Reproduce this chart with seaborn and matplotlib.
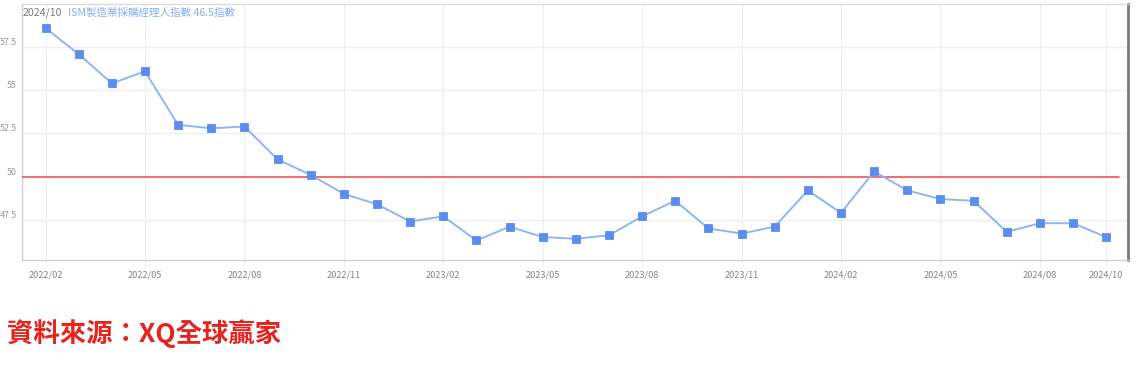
import numpy as np
import pandas as pd
import matplotlib
matplotlib.use("Agg")
import matplotlib.pyplot as plt
import seaborn as sns

# ---- data ----
months = ["2022/02", "2022/03", "2022/04", "2022/05", "2022/06", "2022/07",
          "2022/08", "2022/09", "2022/10", "2022/11", "2022/12", "2023/01",
          "2023/02", "2023/03", "2023/04", "2023/05", "2023/06", "2023/07",
          "2023/08", "2023/09", "2023/10", "2023/11", "2023/12", "2024/01",
          "2024/02", "2024/03", "2024/04", "2024/05", "2024/06", "2024/07",
          "2024/08", "2024/09", "2024/10"]
pmi = [58.6, 57.1, 55.4, 56.1, 53.0, 52.8,
       52.9, 51.0, 50.1, 49.0, 48.4, 47.4,
       47.7, 46.3, 47.1, 46.5, 46.4, 46.6,
       47.7, 48.6, 47.0, 46.7, 47.1, 49.2,
       47.9, 50.3, 49.2, 48.7, 48.6, 46.8,
       47.3, 47.3, 46.5]
tick_labels = ["2022/02", "2022/05", "2022/08", "2022/11", "2023/02", "2023/05",
               "2023/08", "2023/11", "2024/02", "2024/05", "2024/08", "2024/10"]
y_ticks = [47.5, 50, 52.5, 55, 57.5]
y_tick_labels = ["47.5", "50", "52.5", "55", "57.5"]
threshold = 50
title_date = "2024/10"
title_series = "ISM製造業採購經理人指數 46.5指數"
source_text = "資料來源：XQ全球贏家"

df = pd.DataFrame({"month": months, "pmi": pmi})
df["pos"] = range(len(df))

sns.set_theme(style="white")
plt.rcParams["font.family"] = ["Noto Sans CJK TC", "DejaVu Sans"]

W, H = 1136, 365
fig = plt.figure(figsize=(W / 100, H / 100), dpi=100)
ax = fig.add_axes([22 / W, 1 - 260 / H, 1106 / W, 256 / H])

sns.lineplot(data=df, x="pos", y="pmi", ax=ax, color="#8db6f6", linewidth=1.4,
             marker="s", markersize=5.5, markerfacecolor="#5b8df0",
             markeredgecolor="#5b8df0", markeredgewidth=0.6, zorder=4)

xmin, xmax = -0.71, 32.66
ax.set_xlim(xmin, xmax)
ax.set_ylim(45.17, 60.0)

pos_lookup = dict(zip(months, df["pos"]))
ax.set_xticks([pos_lookup[m] for m in tick_labels])
ax.set_xticklabels(tick_labels)
ax.set_yticks(y_ticks)
ax.set_yticklabels(y_tick_labels)
ax.set_xlabel("")
ax.set_ylabel("")

# grid
ax.grid(False)
for p in [pos_lookup[m] for m in tick_labels]:
    ax.axvline(p, color="#e6effa", linewidth=0.8, zorder=0)
for yv in y_ticks:
    ax.axhline(yv, color="#efefef", linewidth=1.0, zorder=0)

# threshold line
ax.plot([xmin, 32.39], [threshold, threshold], color="#ea4a4a", linewidth=1.1, zorder=3)

# ticks
ax.tick_params(axis="x", length=4, width=0.8, color="#e6effa", pad=3.5,
               labelsize=6.6, labelcolor="#858585", bottom=True)
ax.tick_params(axis="y", length=0, pad=4, labelsize=6.4, labelcolor="#9a9a9a")
for lbl in ax.get_yticklabels():
    lbl.set_verticalalignment("bottom")

# spines
for side in ["left", "bottom"]:
    ax.spines[side].set_color("#cfcfcf")
    ax.spines[side].set_linewidth(1.0)
ax.spines["top"].set_color("#dddddd")
ax.spines["top"].set_linewidth(1.0)
ax.spines["right"].set_color("#7a7a7a")
ax.spines["right"].set_linewidth(2.0)

# header text inside the plot
fig.text(23 / W, 1 - 13 / H, title_date, color="#7a7a7a", fontsize=7.6,
         va="center", ha="left")
fig.text(68 / W, 1 - 13 / H, title_series, color="#86b0f2", fontsize=7.6,
         va="center", ha="left")

# source footer
fig.text(7 / W, 1 - 334 / H, source_text, color="#e5231f", fontsize=19,
         fontweight="bold", va="center", ha="left")

fig.savefig("out.png", dpi=100, facecolor="white")
